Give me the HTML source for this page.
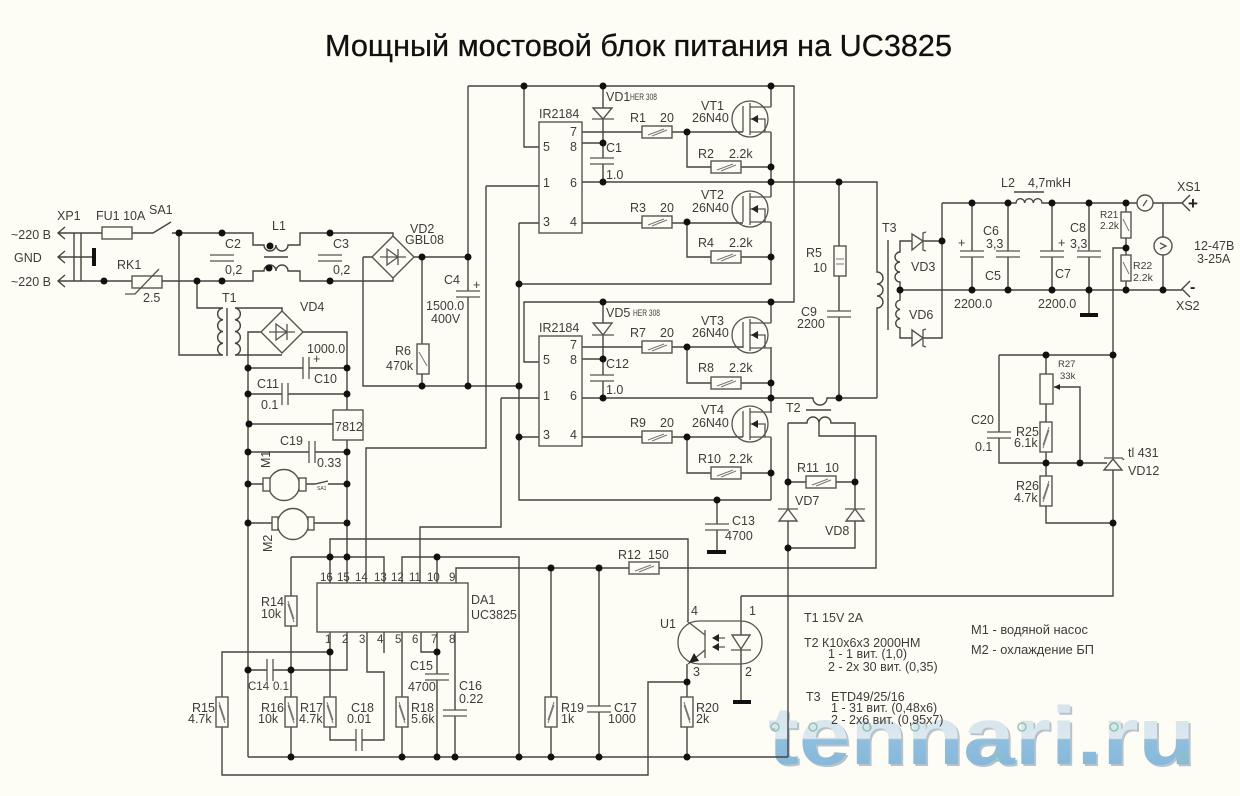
<!DOCTYPE html>
<html lang="ru"><head><meta charset="utf-8"><title>Мощный мостовой блок питания на UC3825</title>
<style>
html,body{margin:0;padding:0;background:#fdfdf5}
svg{display:block;filter:blur(.35px)}
.w{fill:none;stroke:#45453f;stroke-width:1.4}
.d{fill:none;stroke:#111;stroke-width:7;stroke-linecap:round}
.c{fill:#fdfdf5;stroke:#55554f;stroke-width:1.4}
.n{fill:none;stroke:#55554f;stroke-width:1.3}
.s{fill:none;stroke:#777;stroke-width:1}
.f{fill:#222;stroke:none}
.b{fill:none;stroke:#111;stroke-width:4}
text{font-family:"Liberation Sans","DejaVu Sans",sans-serif;font-size:12.5px;fill:#3d3d38}
.t9{font-size:9.5px}
.t11{font-size:11.5px}
</style></head><body>
<svg width="1240" height="796" viewBox="0 0 1240 796" xmlns="http://www.w3.org/2000/svg">
<defs>
<linearGradient id="g" gradientUnits="userSpaceOnUse" x1="0" y1="700" x2="0" y2="766">
<stop offset="0" stop-color="#d3e2ec"/><stop offset=".58" stop-color="#dbe8ef"/><stop offset=".6" stop-color="#8fbfdf"/><stop offset="1" stop-color="#86b8d9"/>
</linearGradient>
<g id="rh"><rect class="c" x="-15" y="-6" width="30" height="12"/><path class="s" d="M-9 3L7-3M-5 4L10-2"/></g>
<g id="rv"><rect class="c" x="-6" y="-15" width="12" height="30"/><path class="s" d="M-3-10L3 8M-3-7L3 11"/></g>
<g id="rw"><rect class="c" x="-6" y="-15" width="12" height="30"/><path class="s" d="M3-10L-3 8M3-7L-3 11"/></g>
<g id="rs"><rect class="c" x="-5" y="-13" width="10" height="26"/><path class="s" d="M-3-6L3 6"/></g>
<g id="ch"><rect x="-12" y="-3" width="24" height="6" fill="#fdfdf5"/><path class="n" d="M-12-3H12M-12 3H12"/></g>
<g id="cv"><rect x="-3" y="-11" width="6" height="22" fill="#fdfdf5"/><path class="n" d="M-3-11V11M3-11V11"/></g>
<g id="br"><path class="c" d="M-21 0L0-21L21 0L0 21Z"/><path class="n" d="M-13 0H13M-6-8V8L5 0ZM5-8V8"/></g>
<g id="mos"><circle class="n" r="18"/><path class="n" d="M-7-13V13M0-16V16M0-12H21M0 13H21M0 0H15V13"/><path class="f" d="M1 0L8-4V4Z"/></g>
<g id="dv"><path class="c" d="M-9 12L0 0L9 12Z"/><path class="n" d="M-10 0H10"/></g>
</defs>
<rect width="1240" height="796" fill="#fdfdf5"/>

<!-- watermark -->
<text x="770" y="766" textLength="427" lengthAdjust="spacingAndGlyphs" style="font-size:82px;font-weight:700;fill:#b9c2c8">tennari.ru</text>
<text x="768" y="764" textLength="427" lengthAdjust="spacingAndGlyphs" style="font-size:82px;font-weight:700;fill:url(#g)">tennari.ru</text>
<g fill="none" stroke="#8fc4b4" stroke-width="1.5"><circle cx="775" cy="727" r="4"/><circle cx="813" cy="727" r="4"/><circle cx="867" cy="727" r="4"/><circle cx="915" cy="727" r="4"/><circle cx="1022" cy="727" r="4"/><circle cx="1114" cy="727" r="4"/><circle cx="998" cy="757" r="4"/><circle cx="1183" cy="757" r="4"/></g>

<text x="325" y="56" textLength="627" lengthAdjust="spacingAndGlyphs" style="font-size:31px;fill:#111;stroke:#111;stroke-width:.3">Мощный мостовой блок питания на UC3825</text>

<!-- wires -->
<path class="w" d="
M58 233H153L171 222M172 233H253V245H264a6 6 0 0 0 12 0a6 6 0 0 0 12 0H300V233H393V236
M58 281H253V271H264a6 6 0 0 1 12 0a6 6 0 0 1 12 0H300V281H393V278
M74 233V281M81 233V281M58 257H94
M65 227L58 233L65 239M65 251L58 257L65 263M65 275L58 281L65 287
M179 233V355H223
M197 281V308H223a5.9 5.9 0 0 0 0 11.75a5.9 5.9 0 0 0 0 11.75a5.9 5.9 0 0 0 0 11.75a5.9 5.9 0 0 0 0 11.75
M282 312V308H235a5.9 5.9 0 0 1 0 11.75a5.9 5.9 0 0 1 0 11.75a5.9 5.9 0 0 1 0 11.75a5.9 5.9 0 0 1 0 11.75H282
M261 332H248V757M303 332H347V583
M248 368H347M248 394H347M248 424H333M248 452H347
M248 484H263M306 484H315L328 481M328 484H347M248 523H272M314 523H347
M413 257H468M422 257V386M363 257H372M363 257V386H519
M468 86V386M468 86H794V302H524V362H539M524 86V147H539
M603 86V182M582 182H877V272a6 6 0 0 1 0 12a6 6 0 0 1 0 12a6 6 0 0 1 0 12V398
M582 132H743M582 143H603M687 132V167H771M582 223H743M687 222V257H771
M771 86V107M771 132V197M771 222V284H519
M519 223H539M486 186H539M486 186V448H366V583
M519 223V500H771
M771 302V323M771 347V413M771 437V500
M582 347H743M582 359H603M603 302V398M687 347V383H771M582 437H743M687 437V473H771M519 437H539
M501 398H539M501 398V527H420V583
M582 398H813a7 7 0 0 0 14 0H877
M839 182V398M717 500V552
M788 423H807a6 6 0 0 1 12 0a6 6 0 0 1 12 0H855V548H788M788 423V757M248 757H788
M819 423V436H876V568H456V583M788 482H855
M330 583V539H688V621
M291 557H384V583M291 557V757M248 670H347V632
M330 632V740H384V672H367V632M384 632V653
M402 632V757M402 583V557H519V757M437 583V557M421 632V652H437M437 632V757M455 632V757
M330 652H222V775H648V682H687
M551 568V757M599 568V757M687 664V757
M741 596V702M741 596H1113V248H1126
M942 203H1016a4.33 4.33 0 0 1 8.67 0a4.33 4.33 0 0 1 8.67 0a4.33 4.33 0 0 1 8.67 0H1137M1153 203H1182
M1190 195L1182 203L1190 211M1190 281L1182 289L1190 297
M942 203V338H900V328a5 4.7 0 0 1 0-9.3a5 4.7 0 0 1 0-9.3a5 4.7 0 0 1 0-9.3V282a5 5 0 0 1 0-10a5 5 0 0 1 0-10a5 5 0 0 1 0-10V241H942
M900 290H1182
M972 203V290M1008 203V290M1052 203V290M1089 203V315M1126 203V290M1163 203V290
M999 355H1113M1113 596V248M999 355V463H1107M1046 355V523H1113M1054 387H1080V463
M888 240V330M227 308V356M806 410H831M1014 192H1044
M264 257H288
"/>

<!-- thick ground bars -->
<path class="b" d="M94 248V266M707 552H726M733 702H751M1080 315H1098"/>

<!-- discrete parts -->
<rect class="c" x="102" y="227" width="30" height="12"/>
<rect class="c" x="132" y="276" width="30" height="12"/><path class="n" d="M125 294H135L159 269"/>
<use href="#ch" x="222" y="258"/><use href="#ch" x="330" y="258"/>
<use href="#br" x="393" y="257"/><use href="#br" x="282" y="332"/>
<rect class="c" x="417" y="344" width="12" height="30"/><path class="s" d="M419 352L427 366"/>
<use href="#ch" x="468" y="294"/>
<use href="#cv" x="306" y="368"/><use href="#cv" x="285" y="394"/><use href="#cv" x="312" y="452"/>
<rect class="c" x="333" y="410" width="30" height="30"/>
<circle class="c" cx="284" cy="485" r="15.5"/><rect class="c" x="263" y="478" width="7" height="13"/><rect class="c" x="299" y="478" width="7" height="13"/>
<circle class="c" cx="293" cy="524" r="15.5"/><rect class="c" x="272" y="517" width="6" height="13"/><rect class="c" x="308" y="517" width="6" height="13"/>

<rect class="c" x="539" y="122" width="43" height="111"/>
<rect class="c" x="539" y="336" width="43" height="110"/>
<path class="c" d="M593 108H612L603 119Z"/><path class="n" d="M592 119H614"/>
<path class="c" d="M593 323H612L603 335Z"/><path class="n" d="M592 335H614"/>
<use href="#ch" x="602" y="161"/><use href="#ch" x="602" y="378"/>
<use href="#rh" x="657" y="132"/><use href="#rh" x="726" y="167"/><use href="#rh" x="657" y="222"/><use href="#rh" x="726" y="257"/>
<use href="#rh" x="657" y="347"/><use href="#rh" x="726" y="383"/><use href="#rh" x="657" y="437"/><use href="#rh" x="726" y="473"/>
<use href="#mos" x="750" y="119"/><use href="#mos" x="750" y="209"/><use href="#mos" x="750" y="335"/><use href="#mos" x="750" y="424"/>
<rect class="c" x="834" y="246" width="12" height="30"/><path class="s" d="M836 259H844M836 264H844"/>
<use href="#ch" x="839" y="314"/>
<use href="#rh" x="821" y="482"/><use href="#dv" x="788" y="509"/><use href="#dv" x="855" y="509"/>
<use href="#ch" x="717" y="527"/>
<use href="#rh" x="644" y="568"/>

<!-- controller -->
<rect class="c" x="317" y="583" width="151" height="49"/>
<use href="#rv" x="291" y="611"/><use href="#rv" x="222" y="712"/><use href="#rv" x="291" y="712"/><use href="#rv" x="330" y="712"/><use href="#rv" x="402" y="712"/>
<use href="#cv" x="270" y="670"/><use href="#cv" x="359" y="740"/>
<use href="#ch" x="437" y="677"/><use href="#ch" x="455" y="713"/>
<use href="#rw" x="551" y="712"/><use href="#ch" x="599" y="709"/><use href="#rv" x="687" y="712"/>

<!-- optocoupler -->
<rect class="n" x="678" y="621" width="84" height="43" rx="21"/>
<path class="n" d="M705 630V658M687 621L705 635M705 650L688 664M725 638H714M725 647H714"/>
<path class="f" d="M689 663L699 661L694 653ZM712 638L719 634V642ZM712 647L719 643V651Z"/>
<path class="c" d="M732 635H750L741 649Z"/><path class="n" d="M731 650H751"/>

<!-- output -->
<path class="c" d="M912 234L923 241L912 250Z"/><path class="n" d="M926 232L923 233V250L926 251"/>
<path class="c" d="M912 330L923 338L912 346Z"/><path class="n" d="M926 329L923 330V346L926 347"/>
<use href="#ch" x="972" y="254"/><use href="#ch" x="1008" y="254"/><use href="#ch" x="1052" y="254"/><use href="#ch" x="1089" y="254"/>
<use href="#rs" x="1126" y="225"/><use href="#rs" x="1126" y="268"/>
<circle class="c" cx="1145" cy="203" r="8"/><circle class="c" cx="1163" cy="246" r="9"/>
<path class="n" d="M1143 206L1147 200M1160 243L1166 246L1160 249"/>
<rect class="c" x="1040" y="374" width="13" height="30"/><path class="f" d="M1054 387L1060 384V390Z"/>
<use href="#rw" x="1046" y="437"/><use href="#rw" x="1046" y="491"/>
<use href="#ch" x="999" y="435"/>
<path class="c" d="M1113 459L1104 470H1122Z"/><path class="n" d="M1104 458H1122L1124 460"/>

<!-- junction dots -->
<path class="d" d="M179 233h0M222 233h0M330 233h0M104 281h0M197 281h0M222 281h0M330 281h0M270 246h0M269 268h0M422 257h0M468 257h0M422 386h0M468 386h0
M248 368h0M347 368h0M248 394h0M347 394h0M249 424h0M248 452h0M347 452h0M248 484h0M347 484h0M248 523h0M347 523h0
M524 86h0M603 86h0M771 86h0M603 143h0M603 182h0M687 132h0M771 167h0M771 182h0M687 222h0M771 257h0M519 284h0M839 182h0M942 241h0
M603 302h0M771 302h0M603 359h0M603 398h0M687 347h0M771 383h0M771 398h0M687 437h0M771 473h0M519 386h0M519 437h0M717 500h0M839 398h0
M788 482h0M855 482h0M788 548h0
M330 557h0M347 557h0M437 557h0M330 652h0M437 652h0M248 670h0M291 670h0
M291 757h0M402 757h0M437 757h0M455 757h0M519 757h0M551 757h0M599 757h0M687 757h0M551 568h0M599 568h0M687 682h0
M972 203h0M1008 203h0M1052 203h0M1089 203h0M1126 203h0M900 290h0M972 290h0M1008 290h0M1052 290h0M1089 290h0M1126 290h0M1163 290h0M1126 248h0
M1046 355h0M1113 355h0M1046 463h0M1080 463h0M1113 523h0"/>

<!-- labels: input -->
<text x="57" y="220">XP1</text><text x="96" y="220">FU1 10A</text><text x="149" y="214">SA1</text>
<text x="11" y="239">~220 В</text><text x="14" y="262">GND</text><text x="11" y="286">~220 В</text>
<text x="117" y="269">RK1</text><text x="143" y="302">2.5</text><text x="272" y="230">L1</text>
<text x="225" y="248">C2</text><text x="225" y="274">0,2</text><text x="333" y="248">C3</text><text x="333" y="274">0,2</text>
<text x="410" y="233">VD2</text><text x="405" y="244">GBL08</text>
<text x="444" y="284">C4</text><text x="473" y="289">+</text><text x="426" y="310">1500.0</text><text x="431" y="323">400V</text>
<text x="395" y="355">R6</text><text x="386" y="370">470k</text>
<text x="222" y="302">T1</text><text x="300" y="311">VD4</text><text x="307" y="353">1000.0</text><text x="313" y="363">+</text>
<text x="314" y="383">C10</text><text x="257" y="388">C11</text><text x="261" y="409">0.1</text><text x="335" y="431">7812</text>
<text x="280" y="445">C19</text><text x="317" y="467">0.33</text>
<text transform="translate(270 468) rotate(-90)">M1</text><text transform="translate(272 552) rotate(-90)">M2</text>
<text x="317" y="490" style="font-size:5px">SA1</text>

<!-- labels: drivers -->
<text x="539" y="118">IR2184</text>
<text x="570" y="136">7</text><text x="570" y="151">8</text><text x="543" y="151">5</text><text x="543" y="187">1</text><text x="570" y="187">6</text><text x="543" y="226">3</text><text x="570" y="226">4</text>
<text x="606" y="101">VD1</text><text x="630" y="100" textLength="27" lengthAdjust="spacingAndGlyphs" class="t9">HER 308</text>
<text x="606" y="152">C1</text><text x="606" y="179">1.0</text>
<text x="630" y="122">R1</text><text x="660" y="122">20</text><text x="701" y="110">VT1</text><text x="692" y="122">26N40</text>
<text x="698" y="158">R2</text><text x="729" y="158">2.2k</text>
<text x="630" y="212">R3</text><text x="660" y="212">20</text><text x="701" y="199">VT2</text><text x="692" y="212">26N40</text>
<text x="698" y="247">R4</text><text x="729" y="247">2.2k</text>
<text x="806" y="257">R5</text><text x="813" y="272">10</text>

<text x="539" y="332">IR2184</text>
<text x="570" y="349">7</text><text x="570" y="364">8</text><text x="543" y="364">5</text><text x="543" y="400">1</text><text x="570" y="400">6</text><text x="543" y="439">3</text><text x="570" y="439">4</text>
<text x="606" y="317">VD5</text><text x="633" y="316" textLength="27" lengthAdjust="spacingAndGlyphs" class="t9">HER 308</text>
<text x="606" y="368">C12</text><text x="606" y="394">1.0</text>
<text x="630" y="337">R7</text><text x="660" y="337">20</text><text x="701" y="325">VT3</text><text x="692" y="337">26N40</text>
<text x="698" y="372">R8</text><text x="729" y="372">2.2k</text>
<text x="630" y="427">R9</text><text x="660" y="427">20</text><text x="701" y="414">VT4</text><text x="692" y="427">26N40</text>
<text x="698" y="463">R10</text><text x="729" y="463">2.2k</text>
<text x="801" y="316">C9</text><text x="797" y="328">2200</text><text x="786" y="412">T2</text>
<text x="797" y="472">R11</text><text x="825" y="472">10</text><text x="795" y="505">VD7</text><text x="825" y="535">VD8</text>
<text x="732" y="525">C13</text><text x="725" y="540">4700</text><text x="618" y="559">R12</text><text x="648" y="559">150</text>

<!-- labels: output -->
<text x="1001" y="187">L2</text><text x="1028" y="187">4,7mkH</text><text x="882" y="232">T3</text>
<text x="911" y="271">VD3</text><text x="909" y="319">VD6</text>
<text x="983" y="235">C6</text><text x="986" y="248">3,3</text><text x="985" y="280">C5</text><text x="954" y="308">2200.0</text>
<text x="1055" y="278">C7</text><text x="1038" y="308">2200.0</text><text x="1070" y="232">C8</text><text x="1070" y="248">3,3</text>
<text x="958" y="247">+</text><text x="1058" y="247">+</text>
<text x="1100" y="218" style="font-size:10px">R21</text><text x="1100" y="229" style="font-size:10px">2.2k</text>
<text x="1133" y="269" style="font-size:10.5px">R22</text><text x="1133" y="281" style="font-size:10.5px">2.2k</text>
<text x="1177" y="191">XS1</text><text x="1176" y="310">XS2</text>
<text x="1188" y="209" style="font-size:17px;font-weight:700;fill:#222">+</text><text x="1190" y="292" style="font-size:16px;font-weight:700;fill:#222">-</text>
<text x="1194" y="250">12-47В</text><text x="1197" y="263">3-25A</text>
<text x="1058" y="367" style="font-size:9.5px">R27</text><text x="1060" y="379" style="font-size:9.5px">33k</text>
<text x="971" y="424">C20</text><text x="975" y="451">0.1</text>
<text x="1016" y="436">R25</text><text x="1014" y="447">6.1k</text><text x="1016" y="490">R26</text><text x="1014" y="502">4.7k</text>
<text x="1128" y="457">tl 431</text><text x="1128" y="475">VD12</text>

<!-- labels: controller -->
<g class="t11"><text x="320" y="581" class="t11">16</text><text x="337" y="581" class="t11">15</text><text x="355" y="581" class="t11">14</text><text x="374" y="581" class="t11">13</text><text x="391" y="581" class="t11">12</text><text x="409" y="581" class="t11">11</text><text x="427" y="581" class="t11">10</text><text x="449" y="581" class="t11">9</text>
<text x="325" y="643" class="t11">1</text><text x="342" y="643" class="t11">2</text><text x="359" y="643" class="t11">3</text><text x="377" y="643" class="t11">4</text><text x="395" y="643" class="t11">5</text><text x="412" y="643" class="t11">6</text><text x="431" y="643" class="t11">7</text><text x="449" y="643" class="t11">8</text></g>
<text x="471" y="604">DA1</text><text x="471" y="619">UC3825</text>
<text x="261" y="606">R14</text><text x="261" y="618">10k</text>
<text x="248" y="690" class="t11">C14</text><text x="273" y="690" class="t11">0.1</text>
<text x="192" y="712">R15</text><text x="188" y="723">4.7k</text>
<text x="261" y="712">R16</text><text x="258" y="723">10k</text>
<text x="300" y="712">R17</text><text x="299" y="723">4.7k</text>
<text x="351" y="712">C18</text><text x="347" y="723">0.01</text>
<text x="411" y="712">R18</text><text x="411" y="723">5.6k</text>
<text x="410" y="670">C15</text><text x="408" y="691">4700</text>
<text x="459" y="690">C16</text><text x="459" y="703">0.22</text>
<text x="561" y="712">R19</text><text x="561" y="723">1k</text>
<text x="614" y="712">C17</text><text x="608" y="723">1000</text>
<text x="696" y="712">R20</text><text x="696" y="723">2k</text>
<text x="660" y="628">U1</text><text x="691" y="615">4</text><text x="749" y="615">1</text><text x="693" y="676">3</text><text x="745" y="676">2</text>

<!-- notes -->
<text x="804" y="622">T1 15V 2A</text>
<text x="804" y="647">T2 К10х6х3 2000НМ</text>
<text x="828" y="658">1 - 1 вит. (1,0)</text>
<text x="828" y="671">2 - 2х 30 вит. (0,35)</text>
<text x="806" y="701">T3</text><text x="831" y="701">ETD49/25/16</text>
<text x="831" y="712">1 - 31 вит. (0,48х6)</text>
<text x="831" y="724">2 - 2х6 вит. (0,95х7)</text>
<text x="971" y="634" textLength="117" lengthAdjust="spacingAndGlyphs">М1 - водяной насос</text>
<text x="971" y="654" textLength="123" lengthAdjust="spacingAndGlyphs">М2 - охлаждение БП</text>
</svg>
</body></html>
